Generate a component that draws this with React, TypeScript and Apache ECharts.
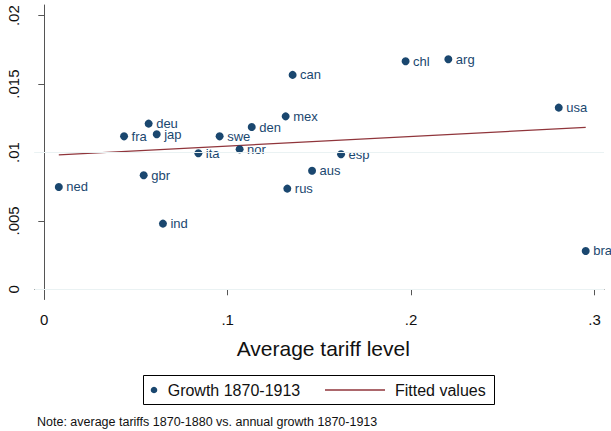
import React, { useEffect, useRef } from "react";
import * as echarts from "echarts";

const countries = ["ned", "fra", "deu", "jap", "gbr", "ind", "ita", "swe", "nor", "den", "mex", "can", "rus", "aus", "esp", "chl", "arg", "usa", "bra"];
const tariffs = [0.0079, 0.0435, 0.0569, 0.0613, 0.0542, 0.0647, 0.084, 0.0956, 0.1065, 0.1131, 0.1316, 0.1354, 0.1325, 0.146, 0.1618, 0.197, 0.2203, 0.2805, 0.2952];
const growth = [0.00748, 0.01118, 0.01211, 0.01133, 0.00833, 0.0048, 0.00994, 0.01118, 0.01023, 0.01186, 0.01264, 0.01567, 0.00736, 0.00867, 0.00987, 0.01667, 0.01681, 0.01328, 0.0028];
const fitX = [0.0079, 0.2952];
const fitY = [0.00982, 0.01184];
const xTicks = [0, 0.1, 0.2, 0.3];
const yTicks = [0, 0.005, 0.01, 0.015, 0.02];
const gridValues = [0, 0.005, 0.01, 0.015];

const NAVY = "#1a476f";
const MAROON = "#90353b";
const FONT = "'Liberation Sans', Arial, Helvetica, sans-serif";

const fmt = (v: number) => (v === 0 ? "0" : String(+v.toFixed(4)).replace(/^0/, ""));

export default function App() {
  const ref = useRef<HTMLDivElement>(null);
  useEffect(() => {
    if (!ref.current) return;
    const chart = echarts.init(ref.current, null, { renderer: "svg" });
    const scatterData = countries.map((c, i) => [tariffs[i], growth[i], c]);
    const fitData = fitX.map((x, i) => [x, fitY[i]]);
    chart.setOption({
      animation: false,
      backgroundColor: "#ffffff",
      textStyle: { fontFamily: FONT },
      grid: { left: 34.5, right: 7, top: 5, bottom: 131.5, containLabel: false },
      xAxis: {
        type: "value",
        min: -0.00534,
        max: 0.30518,
        axisLine: { show: true, lineStyle: { color: "#555555", width: 1 } },
        axisTick: { show: true, customValues: xTicks, length: 6, lineStyle: { color: "#555555" } },
        axisLabel: { customValues: xTicks, formatter: fmt, fontSize: 15, color: "#111111", margin: 12, fontFamily: FONT },
        splitLine: { show: false },
        name: "Average tariff level",
        nameLocation: "middle",
        nameGap: 38,
        nameTextStyle: { fontSize: 21, color: "#111111", fontFamily: FONT, padding: [0, 0, 0, 8] },
      },
      yAxis: {
        type: "value",
        min: -0.000746,
        max: 0.02078,
        axisLine: { show: true, lineStyle: { color: "#555555", width: 1 } },
        axisTick: { show: true, customValues: yTicks, length: 6, lineStyle: { color: "#555555" } },
        axisLabel: { customValues: yTicks, formatter: fmt, fontSize: 15, color: "#111111", rotate: 90, margin: 14, fontFamily: FONT },
        splitLine: { show: false },
      },
      series: [
        {
          type: "line",
          data: [],
          silent: true,
          z: 0,
          markLine: {
            silent: true,
            symbol: "none",
            animation: false,
            label: { show: false },
            lineStyle: { color: "#eaf2f3", width: 1, type: "solid" },
            data: gridValues.map((v) => ({ yAxis: v })),
          },
        },
        {
          name: "Fitted values",
          type: "line",
          data: fitData,
          symbol: "none",
          z: 2,
          lineStyle: { color: MAROON, width: 1.3 },
        },
        {
          name: "Growth 1870-1913",
          type: "scatter",
          data: scatterData,
          symbol: "circle",
          symbolSize: 8,
          z: 3,
          itemStyle: { color: NAVY, opacity: 1 },
          label: {
            show: true,
            position: "right",
            distance: 3.5,
            formatter: (p: any) => p.data[2],
            fontSize: 13,
            color: NAVY,
            textBorderWidth: 0,
            textBorderColor: "transparent",
            fontFamily: FONT,
          },
        },
      ],
      graphic: [
        {
          type: "rect",
          shape: { x: 143.5, y: 375.5, width: 351, height: 29 },
          style: { fill: "#ffffff", stroke: "#000000", lineWidth: 1 },
        },
        { type: "circle", shape: { cx: 154, cy: 390, r: 3.3 }, style: { fill: NAVY } },
        {
          type: "text",
          x: 167.7,
          y: 390,
          style: { text: "Growth 1870-1913", fontSize: 16, fill: "#111111", fontFamily: FONT, verticalAlign: "middle", align: "left" },
        },
        { type: "line", shape: { x1: 325, y1: 390, x2: 385, y2: 390 }, style: { stroke: MAROON, lineWidth: 1.3 } },
        {
          type: "text",
          x: 395,
          y: 390,
          style: { text: "Fitted values", fontSize: 16, fill: "#111111", fontFamily: FONT, verticalAlign: "middle", align: "left" },
        },
        {
          type: "text",
          x: 37,
          y: 421.7,
          style: { text: "Note: average tariffs 1870-1880 vs. annual growth 1870-1913", fontSize: 12.5, fill: "#111111", fontFamily: FONT, verticalAlign: "middle", align: "left" },
        },
      ],
    });
    return () => chart.dispose();
  }, []);
  return <div ref={ref} style={{ position: "fixed", left: 0, top: 0, width: 611, height: 431 }} />;
}
